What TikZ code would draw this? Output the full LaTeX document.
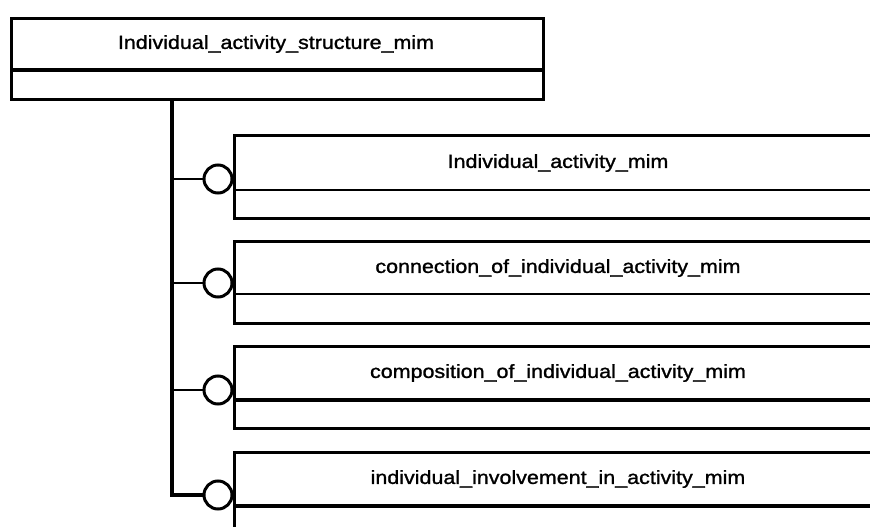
\documentclass[tikz,border=0pt]{standalone}
\usepackage{fontspec}
\newfontfamily\umlfont[FakeStretch=1.13, FakeBold=1.3]{Liberation Sans}
\usetikzlibrary{calc}

\tikzset{
	entity/.style={draw, line width=3pt, rectangle, anchor=north west, inner sep=0pt},
	thindiv/.style={line width=1.3pt},
	thickdiv/.style={line width=4.5pt},
	entname/.style={font=\umlfont\fontsize{19}{19}\selectfont, inner sep=0pt},
	ring/.style={draw, circle, line width=3pt, fill=white, minimum size=28pt, inner sep=0pt},
	trunk/.style={line width=3.5pt},
	branch/.style={line width=2.5pt}
}

\begin{document}
\begin{tikzpicture}[x=1pt, y=-1pt]
			%%%%% START %%%%%
			\useasboundingbox (0, 0) rectangle (870, 527);
			\clip (0, 0) rectangle (870, 527);
			
			\node[entity, minimum width=532pt, minimum height=81pt] (struct) at (10, 17) {};
			\draw[thickdiv] (10, 70) -- (542, 70);
			\node[entname] (structname) at (276, 44) {Individual\_activity\_structure\_mim};
			
			\node[entity, minimum width=650pt, minimum height=83pt] (act) at (233, 134) {};
			\draw[thindiv] (233, 190) -- (883, 190);
			\node[entname] (actname) at (558, 163) {Individual\_activity\_mim};
			
			\node[entity, minimum width=650pt, minimum height=82pt] (conn) at (233, 240) {};
			\draw[thindiv] (233, 294) -- (883, 294);
			\node[entname] (connname) at (558, 268) {connection\_of\_individual\_activity\_mim};
			
			\node[entity, minimum width=650pt, minimum height=82pt] (comp) at (233, 345) {};
			\draw[thickdiv] (233, 400) -- (883, 400);
			\node[entname] (compname) at (558, 373) {composition\_of\_individual\_activity\_mim};
			
			\node[entity, minimum width=650pt, minimum height=84pt] (inv) at (233, 451) {};
			\draw[thickdiv] (233, 506) -- (883, 506);
			\node[entname] (invname) at (558, 479) {individual\_involvement\_in\_activity\_mim};
			
			\coordinate (root) at (172, 98);
			\node[ring] (r1) at (218, 179) {};
			\node[ring] (r2) at (218, 283) {};
			\node[ring] (r3) at (218, 390) {};
			\node[ring] (r4) at (218, 495) {};
			
			\draw[trunk] (root) |- (r4.west);
			\draw[branch] (root |- r1) -- (r1.west);
			\draw[branch] (root |- r2) -- (r2.west);
			\draw[branch] (root |- r3) -- (r3.west);
			
			%%%%% END %%%%%
		\end{tikzpicture}
\end{document}
